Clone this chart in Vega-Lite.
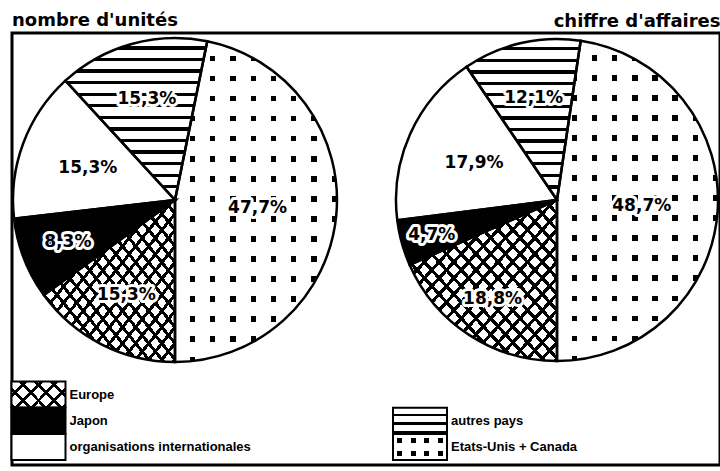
{
  "$schema": "https://vega.github.io/schema/vega-lite/v6.json",
  "width": 708,
  "height": 432,
  "autosize": {"type": "none"},
  "padding": {"left": 12, "top": 33, "right": 0, "bottom": 6},
  "background": "white",
  "title": {"text": "nombre d'unités", "anchor": "start", "frame": "group", "font": "DejaVu Sans", "fontSize": 18, "fontWeight": "bold", "color": "black", "baseline": "alphabetic", "offset": 7, "dy": 39},
  "datasets": {
    "parts": [
      {"panel": "nombre d'unités", "categorie": "Etats-Unis + Canada", "part": 47.7, "etiquette": "47,7%", "ordre": 1},
      {"panel": "nombre d'unités", "categorie": "Europe", "part": 15.3, "etiquette": "15,3%", "ordre": 2},
      {"panel": "nombre d'unités", "categorie": "Japon", "part": 8.3, "etiquette": "8,3%", "ordre": 3},
      {"panel": "nombre d'unités", "categorie": "organisations internationales", "part": 15.3, "etiquette": "15,3%", "ordre": 4},
      {"panel": "nombre d'unités", "categorie": "autres pays", "part": 15.3, "etiquette": "15,3%", "ordre": 5},
      {"panel": "chiffre d'affaires", "categorie": "Etats-Unis + Canada", "part": 48.7, "etiquette": "48,7%", "ordre": 1},
      {"panel": "chiffre d'affaires", "categorie": "Europe", "part": 18.8, "etiquette": "18,8%", "ordre": 2},
      {"panel": "chiffre d'affaires", "categorie": "Japon", "part": 4.7, "etiquette": "4,7%", "ordre": 3},
      {"panel": "chiffre d'affaires", "categorie": "organisations internationales", "part": 17.9, "etiquette": "17,9%", "ordre": 4},
      {"panel": "chiffre d'affaires", "categorie": "autres pays", "part": 12.1, "etiquette": "12,1%", "ordre": 5}
    ],
    "legende": [
      {"categorie": "Europe", "colonne": 1, "rang": 1},
      {"categorie": "Japon", "colonne": 1, "rang": 2},
      {"categorie": "organisations internationales", "colonne": 1, "rang": 3},
      {"categorie": "autres pays", "colonne": 2, "rang": 2},
      {"categorie": "Etats-Unis + Canada", "colonne": 2, "rang": 3}
    ]
  },
  "layer": [
    {
      "data": {"name": "parts"},
      "encoding": {
        "x": {"field": "panel", "type": "nominal", "scale": {"type": "point", "domain": ["nombre d'unités", "chiffre d'affaires"], "padding": 0.4267},
          "axis": {"orient": "top", "title": "chiffre d'affaires", "labels": false, "ticks": false, "domain": false, "grid": false, "titleAnchor": "end", "titleAlign": "right", "titleFont": "DejaVu Sans", "titleFontSize": 18, "titleFontWeight": "bold", "titleColor": "black", "titleBaseline": "alphabetic", "titlePadding": 7}},
        "y": {"field": "panel", "type": "nominal", "scale": {"type": "point", "domain": ["nombre d'unités", "chiffre d'affaires"], "range": [167, 167]}, "axis": null}
      },
      "layer": [
        {
          "transform": [{"filter": {"field": "panel", "equal": "nombre d'unités"}}],
          "encoding": {
            "theta": {"field": "part", "type": "quantitative", "stack": true, "scale": {"range": [0.2004, 6.4836]}},
            "order": {"field": "ordre", "type": "quantitative"}
          },
          "layer": [
            {"mark": {"type": "arc", "outerRadius": 162}, "encoding": {"fill": {"condition": {"test": "datum.categorie === 'Japon' || datum.categorie === 'Etats-Unis + Canada'", "value": "black"}, "value": "white"}}},
            {"mark": {"type": "arc", "outerRadius": 162, "fill": {"gradient": "linear", "x1": 0, "y1": 0, "x2": 0, "y2": 1, "stops": [
        {"offset": 0, "color": "white"}, {"offset": 0.0514, "color": "white"}, {"offset": 0.0514, "color": "black"}, {"offset": 0.0714, "color": "black"},
        {"offset": 0.0714, "color": "white"}, {"offset": 0.1229, "color": "white"}, {"offset": 0.1229, "color": "black"}, {"offset": 0.1429, "color": "black"},
        {"offset": 0.1429, "color": "white"}, {"offset": 0.1943, "color": "white"}, {"offset": 0.1943, "color": "black"}, {"offset": 0.2143, "color": "black"},
        {"offset": 0.2143, "color": "white"}, {"offset": 0.2657, "color": "white"}, {"offset": 0.2657, "color": "black"}, {"offset": 0.2857, "color": "black"},
        {"offset": 0.2857, "color": "white"}, {"offset": 0.3371, "color": "white"}, {"offset": 0.3371, "color": "black"}, {"offset": 0.3571, "color": "black"},
        {"offset": 0.3571, "color": "white"}, {"offset": 0.4086, "color": "white"}, {"offset": 0.4086, "color": "black"}, {"offset": 0.4286, "color": "black"},
        {"offset": 0.4286, "color": "white"}, {"offset": 0.48, "color": "white"}, {"offset": 0.48, "color": "black"}, {"offset": 0.5, "color": "black"},
        {"offset": 0.5, "color": "white"}, {"offset": 0.5514, "color": "white"}, {"offset": 0.5514, "color": "black"}, {"offset": 0.5714, "color": "black"},
        {"offset": 0.5714, "color": "white"}, {"offset": 0.6229, "color": "white"}, {"offset": 0.6229, "color": "black"}, {"offset": 0.6429, "color": "black"},
        {"offset": 0.6429, "color": "white"}, {"offset": 0.6943, "color": "white"}, {"offset": 0.6943, "color": "black"}, {"offset": 0.7143, "color": "black"},
        {"offset": 0.7143, "color": "white"}, {"offset": 0.7657, "color": "white"}, {"offset": 0.7657, "color": "black"}, {"offset": 0.7857, "color": "black"},
        {"offset": 0.7857, "color": "white"}, {"offset": 0.8371, "color": "white"}, {"offset": 0.8371, "color": "black"}, {"offset": 0.8571, "color": "black"},
        {"offset": 0.8571, "color": "white"}, {"offset": 0.9086, "color": "white"}, {"offset": 0.9086, "color": "black"}, {"offset": 0.9286, "color": "black"},
        {"offset": 0.9286, "color": "white"}, {"offset": 0.98, "color": "white"}, {"offset": 0.98, "color": "black"}, {"offset": 1, "color": "black"}]}}, "encoding": {"fillOpacity": {"condition": {"test": "datum.categorie === 'autres pays'", "value": 1}, "value": 0}}},
            {"mark": {"type": "arc", "outerRadius": 162, "fill": {"gradient": "linear", "x1": 0, "y1": 0, "x2": 1, "y2": 1, "stops": [
        {"offset": 0, "color": "rgba(0,0,0,0)"}, {"offset": 0.035, "color": "rgba(0,0,0,0)"}, {"offset": 0.035, "color": "black"}, {"offset": 0.05, "color": "black"},
        {"offset": 0.05, "color": "rgba(0,0,0,0)"}, {"offset": 0.085, "color": "rgba(0,0,0,0)"}, {"offset": 0.085, "color": "black"}, {"offset": 0.1, "color": "black"},
        {"offset": 0.1, "color": "rgba(0,0,0,0)"}, {"offset": 0.135, "color": "rgba(0,0,0,0)"}, {"offset": 0.135, "color": "black"}, {"offset": 0.15, "color": "black"},
        {"offset": 0.15, "color": "rgba(0,0,0,0)"}, {"offset": 0.185, "color": "rgba(0,0,0,0)"}, {"offset": 0.185, "color": "black"}, {"offset": 0.2, "color": "black"},
        {"offset": 0.2, "color": "rgba(0,0,0,0)"}, {"offset": 0.235, "color": "rgba(0,0,0,0)"}, {"offset": 0.235, "color": "black"}, {"offset": 0.25, "color": "black"},
        {"offset": 0.25, "color": "rgba(0,0,0,0)"}, {"offset": 0.285, "color": "rgba(0,0,0,0)"}, {"offset": 0.285, "color": "black"}, {"offset": 0.3, "color": "black"},
        {"offset": 0.3, "color": "rgba(0,0,0,0)"}, {"offset": 0.335, "color": "rgba(0,0,0,0)"}, {"offset": 0.335, "color": "black"}, {"offset": 0.35, "color": "black"},
        {"offset": 0.35, "color": "rgba(0,0,0,0)"}, {"offset": 0.385, "color": "rgba(0,0,0,0)"}, {"offset": 0.385, "color": "black"}, {"offset": 0.4, "color": "black"},
        {"offset": 0.4, "color": "rgba(0,0,0,0)"}, {"offset": 0.435, "color": "rgba(0,0,0,0)"}, {"offset": 0.435, "color": "black"}, {"offset": 0.45, "color": "black"},
        {"offset": 0.45, "color": "rgba(0,0,0,0)"}, {"offset": 0.485, "color": "rgba(0,0,0,0)"}, {"offset": 0.485, "color": "black"}, {"offset": 0.5, "color": "black"},
        {"offset": 0.5, "color": "rgba(0,0,0,0)"}, {"offset": 0.535, "color": "rgba(0,0,0,0)"}, {"offset": 0.535, "color": "black"}, {"offset": 0.55, "color": "black"},
        {"offset": 0.55, "color": "rgba(0,0,0,0)"}, {"offset": 0.585, "color": "rgba(0,0,0,0)"}, {"offset": 0.585, "color": "black"}, {"offset": 0.6, "color": "black"},
        {"offset": 0.6, "color": "rgba(0,0,0,0)"}, {"offset": 0.635, "color": "rgba(0,0,0,0)"}, {"offset": 0.635, "color": "black"}, {"offset": 0.65, "color": "black"},
        {"offset": 0.65, "color": "rgba(0,0,0,0)"}, {"offset": 0.685, "color": "rgba(0,0,0,0)"}, {"offset": 0.685, "color": "black"}, {"offset": 0.7, "color": "black"},
        {"offset": 0.7, "color": "rgba(0,0,0,0)"}, {"offset": 0.735, "color": "rgba(0,0,0,0)"}, {"offset": 0.735, "color": "black"}, {"offset": 0.75, "color": "black"},
        {"offset": 0.75, "color": "rgba(0,0,0,0)"}, {"offset": 0.785, "color": "rgba(0,0,0,0)"}, {"offset": 0.785, "color": "black"}, {"offset": 0.8, "color": "black"},
        {"offset": 0.8, "color": "rgba(0,0,0,0)"}, {"offset": 0.835, "color": "rgba(0,0,0,0)"}, {"offset": 0.835, "color": "black"}, {"offset": 0.85, "color": "black"},
        {"offset": 0.85, "color": "rgba(0,0,0,0)"}, {"offset": 0.885, "color": "rgba(0,0,0,0)"}, {"offset": 0.885, "color": "black"}, {"offset": 0.9, "color": "black"},
        {"offset": 0.9, "color": "rgba(0,0,0,0)"}, {"offset": 0.935, "color": "rgba(0,0,0,0)"}, {"offset": 0.935, "color": "black"}, {"offset": 0.95, "color": "black"},
        {"offset": 0.95, "color": "rgba(0,0,0,0)"}, {"offset": 0.985, "color": "rgba(0,0,0,0)"}, {"offset": 0.985, "color": "black"}, {"offset": 1, "color": "black"}]}}, "encoding": {"fillOpacity": {"condition": {"test": "datum.categorie === 'Europe'", "value": 1}, "value": 0}}},
            {"mark": {"type": "arc", "outerRadius": 162, "fill": {"gradient": "linear", "x1": 1, "y1": 0, "x2": 0, "y2": 1, "stops": [
        {"offset": 0, "color": "rgba(0,0,0,0)"}, {"offset": 0.035, "color": "rgba(0,0,0,0)"}, {"offset": 0.035, "color": "black"}, {"offset": 0.05, "color": "black"},
        {"offset": 0.05, "color": "rgba(0,0,0,0)"}, {"offset": 0.085, "color": "rgba(0,0,0,0)"}, {"offset": 0.085, "color": "black"}, {"offset": 0.1, "color": "black"},
        {"offset": 0.1, "color": "rgba(0,0,0,0)"}, {"offset": 0.135, "color": "rgba(0,0,0,0)"}, {"offset": 0.135, "color": "black"}, {"offset": 0.15, "color": "black"},
        {"offset": 0.15, "color": "rgba(0,0,0,0)"}, {"offset": 0.185, "color": "rgba(0,0,0,0)"}, {"offset": 0.185, "color": "black"}, {"offset": 0.2, "color": "black"},
        {"offset": 0.2, "color": "rgba(0,0,0,0)"}, {"offset": 0.235, "color": "rgba(0,0,0,0)"}, {"offset": 0.235, "color": "black"}, {"offset": 0.25, "color": "black"},
        {"offset": 0.25, "color": "rgba(0,0,0,0)"}, {"offset": 0.285, "color": "rgba(0,0,0,0)"}, {"offset": 0.285, "color": "black"}, {"offset": 0.3, "color": "black"},
        {"offset": 0.3, "color": "rgba(0,0,0,0)"}, {"offset": 0.335, "color": "rgba(0,0,0,0)"}, {"offset": 0.335, "color": "black"}, {"offset": 0.35, "color": "black"},
        {"offset": 0.35, "color": "rgba(0,0,0,0)"}, {"offset": 0.385, "color": "rgba(0,0,0,0)"}, {"offset": 0.385, "color": "black"}, {"offset": 0.4, "color": "black"},
        {"offset": 0.4, "color": "rgba(0,0,0,0)"}, {"offset": 0.435, "color": "rgba(0,0,0,0)"}, {"offset": 0.435, "color": "black"}, {"offset": 0.45, "color": "black"},
        {"offset": 0.45, "color": "rgba(0,0,0,0)"}, {"offset": 0.485, "color": "rgba(0,0,0,0)"}, {"offset": 0.485, "color": "black"}, {"offset": 0.5, "color": "black"},
        {"offset": 0.5, "color": "rgba(0,0,0,0)"}, {"offset": 0.535, "color": "rgba(0,0,0,0)"}, {"offset": 0.535, "color": "black"}, {"offset": 0.55, "color": "black"},
        {"offset": 0.55, "color": "rgba(0,0,0,0)"}, {"offset": 0.585, "color": "rgba(0,0,0,0)"}, {"offset": 0.585, "color": "black"}, {"offset": 0.6, "color": "black"},
        {"offset": 0.6, "color": "rgba(0,0,0,0)"}, {"offset": 0.635, "color": "rgba(0,0,0,0)"}, {"offset": 0.635, "color": "black"}, {"offset": 0.65, "color": "black"},
        {"offset": 0.65, "color": "rgba(0,0,0,0)"}, {"offset": 0.685, "color": "rgba(0,0,0,0)"}, {"offset": 0.685, "color": "black"}, {"offset": 0.7, "color": "black"},
        {"offset": 0.7, "color": "rgba(0,0,0,0)"}, {"offset": 0.735, "color": "rgba(0,0,0,0)"}, {"offset": 0.735, "color": "black"}, {"offset": 0.75, "color": "black"},
        {"offset": 0.75, "color": "rgba(0,0,0,0)"}, {"offset": 0.785, "color": "rgba(0,0,0,0)"}, {"offset": 0.785, "color": "black"}, {"offset": 0.8, "color": "black"},
        {"offset": 0.8, "color": "rgba(0,0,0,0)"}, {"offset": 0.835, "color": "rgba(0,0,0,0)"}, {"offset": 0.835, "color": "black"}, {"offset": 0.85, "color": "black"},
        {"offset": 0.85, "color": "rgba(0,0,0,0)"}, {"offset": 0.885, "color": "rgba(0,0,0,0)"}, {"offset": 0.885, "color": "black"}, {"offset": 0.9, "color": "black"},
        {"offset": 0.9, "color": "rgba(0,0,0,0)"}, {"offset": 0.935, "color": "rgba(0,0,0,0)"}, {"offset": 0.935, "color": "black"}, {"offset": 0.95, "color": "black"},
        {"offset": 0.95, "color": "rgba(0,0,0,0)"}, {"offset": 0.985, "color": "rgba(0,0,0,0)"}, {"offset": 0.985, "color": "black"}, {"offset": 1, "color": "black"}]}}, "encoding": {"fillOpacity": {"condition": {"test": "datum.categorie === 'Europe'", "value": 1}, "value": 0}}},
            {"mark": {"type": "arc", "outerRadius": 162, "fill": {"gradient": "linear", "x1": 0, "y1": 0, "x2": 0, "y2": 1, "stops": [
        {"offset": 0, "color": "white"}, {"offset": 0.0455, "color": "white"}, {"offset": 0.0455, "color": "rgba(0,0,0,0)"}, {"offset": 0.0625, "color": "rgba(0,0,0,0)"},
        {"offset": 0.0625, "color": "white"}, {"offset": 0.108, "color": "white"}, {"offset": 0.108, "color": "rgba(0,0,0,0)"}, {"offset": 0.125, "color": "rgba(0,0,0,0)"},
        {"offset": 0.125, "color": "white"}, {"offset": 0.1705, "color": "white"}, {"offset": 0.1705, "color": "rgba(0,0,0,0)"}, {"offset": 0.1875, "color": "rgba(0,0,0,0)"},
        {"offset": 0.1875, "color": "white"}, {"offset": 0.233, "color": "white"}, {"offset": 0.233, "color": "rgba(0,0,0,0)"}, {"offset": 0.25, "color": "rgba(0,0,0,0)"},
        {"offset": 0.25, "color": "white"}, {"offset": 0.2955, "color": "white"}, {"offset": 0.2955, "color": "rgba(0,0,0,0)"}, {"offset": 0.3125, "color": "rgba(0,0,0,0)"},
        {"offset": 0.3125, "color": "white"}, {"offset": 0.358, "color": "white"}, {"offset": 0.358, "color": "rgba(0,0,0,0)"}, {"offset": 0.375, "color": "rgba(0,0,0,0)"},
        {"offset": 0.375, "color": "white"}, {"offset": 0.4205, "color": "white"}, {"offset": 0.4205, "color": "rgba(0,0,0,0)"}, {"offset": 0.4375, "color": "rgba(0,0,0,0)"},
        {"offset": 0.4375, "color": "white"}, {"offset": 0.483, "color": "white"}, {"offset": 0.483, "color": "rgba(0,0,0,0)"}, {"offset": 0.5, "color": "rgba(0,0,0,0)"},
        {"offset": 0.5, "color": "white"}, {"offset": 0.5455, "color": "white"}, {"offset": 0.5455, "color": "rgba(0,0,0,0)"}, {"offset": 0.5625, "color": "rgba(0,0,0,0)"},
        {"offset": 0.5625, "color": "white"}, {"offset": 0.608, "color": "white"}, {"offset": 0.608, "color": "rgba(0,0,0,0)"}, {"offset": 0.625, "color": "rgba(0,0,0,0)"},
        {"offset": 0.625, "color": "white"}, {"offset": 0.6705, "color": "white"}, {"offset": 0.6705, "color": "rgba(0,0,0,0)"}, {"offset": 0.6875, "color": "rgba(0,0,0,0)"},
        {"offset": 0.6875, "color": "white"}, {"offset": 0.733, "color": "white"}, {"offset": 0.733, "color": "rgba(0,0,0,0)"}, {"offset": 0.75, "color": "rgba(0,0,0,0)"},
        {"offset": 0.75, "color": "white"}, {"offset": 0.7955, "color": "white"}, {"offset": 0.7955, "color": "rgba(0,0,0,0)"}, {"offset": 0.8125, "color": "rgba(0,0,0,0)"},
        {"offset": 0.8125, "color": "white"}, {"offset": 0.858, "color": "white"}, {"offset": 0.858, "color": "rgba(0,0,0,0)"}, {"offset": 0.875, "color": "rgba(0,0,0,0)"},
        {"offset": 0.875, "color": "white"}, {"offset": 0.9205, "color": "white"}, {"offset": 0.9205, "color": "rgba(0,0,0,0)"}, {"offset": 0.9375, "color": "rgba(0,0,0,0)"},
        {"offset": 0.9375, "color": "white"}, {"offset": 0.983, "color": "white"}, {"offset": 0.983, "color": "rgba(0,0,0,0)"}, {"offset": 1, "color": "rgba(0,0,0,0)"}]}}, "encoding": {"fillOpacity": {"condition": {"test": "datum.categorie === 'Etats-Unis + Canada'", "value": 1}, "value": 0}}},
            {"mark": {"type": "arc", "outerRadius": 162, "fill": {"gradient": "linear", "x1": 0, "y1": 0, "x2": 1, "y2": 0, "stops": [
        {"offset": 0, "color": "white"}, {"offset": 0.092, "color": "white"}, {"offset": 0.092, "color": "rgba(0,0,0,0)"}, {"offset": 0.125, "color": "rgba(0,0,0,0)"},
        {"offset": 0.125, "color": "white"}, {"offset": 0.217, "color": "white"}, {"offset": 0.217, "color": "rgba(0,0,0,0)"}, {"offset": 0.25, "color": "rgba(0,0,0,0)"},
        {"offset": 0.25, "color": "white"}, {"offset": 0.342, "color": "white"}, {"offset": 0.342, "color": "rgba(0,0,0,0)"}, {"offset": 0.375, "color": "rgba(0,0,0,0)"},
        {"offset": 0.375, "color": "white"}, {"offset": 0.467, "color": "white"}, {"offset": 0.467, "color": "rgba(0,0,0,0)"}, {"offset": 0.5, "color": "rgba(0,0,0,0)"},
        {"offset": 0.5, "color": "white"}, {"offset": 0.592, "color": "white"}, {"offset": 0.592, "color": "rgba(0,0,0,0)"}, {"offset": 0.625, "color": "rgba(0,0,0,0)"},
        {"offset": 0.625, "color": "white"}, {"offset": 0.717, "color": "white"}, {"offset": 0.717, "color": "rgba(0,0,0,0)"}, {"offset": 0.75, "color": "rgba(0,0,0,0)"},
        {"offset": 0.75, "color": "white"}, {"offset": 0.842, "color": "white"}, {"offset": 0.842, "color": "rgba(0,0,0,0)"}, {"offset": 0.875, "color": "rgba(0,0,0,0)"},
        {"offset": 0.875, "color": "white"}, {"offset": 0.967, "color": "white"}, {"offset": 0.967, "color": "rgba(0,0,0,0)"}, {"offset": 1, "color": "rgba(0,0,0,0)"}]}}, "encoding": {"fillOpacity": {"condition": {"test": "datum.categorie === 'Etats-Unis + Canada'", "value": 1}, "value": 0}}},
            {"mark": {"type": "arc", "outerRadius": 162, "fill": "transparent", "stroke": "black", "strokeWidth": 2.5}},
            {"mark": {"type": "text", "radius": 83, "font": "DejaVu Sans", "fontSize": 17, "fontWeight": "bold", "fill": "white", "stroke": "white", "strokeWidth": 6, "strokeJoin": "round"}, "encoding": {"text": {"field": "etiquette"}, "opacity": {"condition": {"test": "datum.categorie === 'Etats-Unis + Canada'", "value": 1}, "value": 0}}},
            {"mark": {"type": "text", "radius": 83, "font": "DejaVu Sans", "fontSize": 17, "fontWeight": "bold", "fill": "black"}, "encoding": {"text": {"field": "etiquette"}, "opacity": {"condition": {"test": "datum.categorie === 'Etats-Unis + Canada'", "value": 1}, "value": 0}}},
            {"mark": {"type": "text", "radius": 107, "font": "DejaVu Sans", "fontSize": 17, "fontWeight": "bold", "fill": "white", "stroke": "white", "strokeWidth": 6, "strokeJoin": "round"}, "encoding": {"text": {"field": "etiquette"}, "opacity": {"condition": {"test": "datum.categorie === 'Europe'", "value": 1}, "value": 0}}},
            {"mark": {"type": "text", "radius": 107, "font": "DejaVu Sans", "fontSize": 17, "fontWeight": "bold", "fill": "black"}, "encoding": {"text": {"field": "etiquette"}, "opacity": {"condition": {"test": "datum.categorie === 'Europe'", "value": 1}, "value": 0}}},
            {"mark": {"type": "text", "radius": 115, "font": "DejaVu Sans", "fontSize": 17, "fontWeight": "bold", "fill": "white", "stroke": "white", "strokeWidth": 6, "strokeJoin": "round"}, "encoding": {"text": {"field": "etiquette"}, "opacity": {"condition": {"test": "datum.categorie === 'Japon'", "value": 1}, "value": 0}}},
            {"mark": {"type": "text", "radius": 115, "font": "DejaVu Sans", "fontSize": 17, "fontWeight": "bold", "fill": "black"}, "encoding": {"text": {"field": "etiquette"}, "opacity": {"condition": {"test": "datum.categorie === 'Japon'", "value": 1}, "value": 0}}},
            {"mark": {"type": "text", "radius": 93, "font": "DejaVu Sans", "fontSize": 17, "fontWeight": "bold", "fill": "black"}, "encoding": {"text": {"field": "etiquette"}, "opacity": {"condition": {"test": "datum.categorie === 'organisations internationales'", "value": 1}, "value": 0}}},
            {"mark": {"type": "text", "radius": 105, "font": "DejaVu Sans", "fontSize": 17, "fontWeight": "bold", "fill": "white", "stroke": "white", "strokeWidth": 6, "strokeJoin": "round"}, "encoding": {"text": {"field": "etiquette"}, "opacity": {"condition": {"test": "datum.categorie === 'autres pays'", "value": 1}, "value": 0}}},
            {"mark": {"type": "text", "radius": 105, "font": "DejaVu Sans", "fontSize": 17, "fontWeight": "bold", "fill": "black"}, "encoding": {"text": {"field": "etiquette"}, "opacity": {"condition": {"test": "datum.categorie === 'autres pays'", "value": 1}, "value": 0}}}
          ]
        },
        {
          "transform": [{"filter": {"field": "panel", "equal": "chiffre d'affaires"}}],
          "encoding": {
            "theta": {"field": "part", "type": "quantitative", "stack": true, "scale": {"range": [0.1475, 6.4307]}},
            "order": {"field": "ordre", "type": "quantitative"}
          },
          "layer": [
            {"mark": {"type": "arc", "outerRadius": 161}, "encoding": {"fill": {"condition": {"test": "datum.categorie === 'Japon' || datum.categorie === 'Etats-Unis + Canada'", "value": "black"}, "value": "white"}}},
            {"mark": {"type": "arc", "outerRadius": 161, "fill": {"gradient": "linear", "x1": 0, "y1": 0, "x2": 0, "y2": 1, "stops": [
        {"offset": 0, "color": "white"}, {"offset": 0.0514, "color": "white"}, {"offset": 0.0514, "color": "black"}, {"offset": 0.0714, "color": "black"},
        {"offset": 0.0714, "color": "white"}, {"offset": 0.1229, "color": "white"}, {"offset": 0.1229, "color": "black"}, {"offset": 0.1429, "color": "black"},
        {"offset": 0.1429, "color": "white"}, {"offset": 0.1943, "color": "white"}, {"offset": 0.1943, "color": "black"}, {"offset": 0.2143, "color": "black"},
        {"offset": 0.2143, "color": "white"}, {"offset": 0.2657, "color": "white"}, {"offset": 0.2657, "color": "black"}, {"offset": 0.2857, "color": "black"},
        {"offset": 0.2857, "color": "white"}, {"offset": 0.3371, "color": "white"}, {"offset": 0.3371, "color": "black"}, {"offset": 0.3571, "color": "black"},
        {"offset": 0.3571, "color": "white"}, {"offset": 0.4086, "color": "white"}, {"offset": 0.4086, "color": "black"}, {"offset": 0.4286, "color": "black"},
        {"offset": 0.4286, "color": "white"}, {"offset": 0.48, "color": "white"}, {"offset": 0.48, "color": "black"}, {"offset": 0.5, "color": "black"},
        {"offset": 0.5, "color": "white"}, {"offset": 0.5514, "color": "white"}, {"offset": 0.5514, "color": "black"}, {"offset": 0.5714, "color": "black"},
        {"offset": 0.5714, "color": "white"}, {"offset": 0.6229, "color": "white"}, {"offset": 0.6229, "color": "black"}, {"offset": 0.6429, "color": "black"},
        {"offset": 0.6429, "color": "white"}, {"offset": 0.6943, "color": "white"}, {"offset": 0.6943, "color": "black"}, {"offset": 0.7143, "color": "black"},
        {"offset": 0.7143, "color": "white"}, {"offset": 0.7657, "color": "white"}, {"offset": 0.7657, "color": "black"}, {"offset": 0.7857, "color": "black"},
        {"offset": 0.7857, "color": "white"}, {"offset": 0.8371, "color": "white"}, {"offset": 0.8371, "color": "black"}, {"offset": 0.8571, "color": "black"},
        {"offset": 0.8571, "color": "white"}, {"offset": 0.9086, "color": "white"}, {"offset": 0.9086, "color": "black"}, {"offset": 0.9286, "color": "black"},
        {"offset": 0.9286, "color": "white"}, {"offset": 0.98, "color": "white"}, {"offset": 0.98, "color": "black"}, {"offset": 1, "color": "black"}]}}, "encoding": {"fillOpacity": {"condition": {"test": "datum.categorie === 'autres pays'", "value": 1}, "value": 0}}},
            {"mark": {"type": "arc", "outerRadius": 161, "fill": {"gradient": "linear", "x1": 0, "y1": 0, "x2": 1, "y2": 1, "stops": [
        {"offset": 0, "color": "rgba(0,0,0,0)"}, {"offset": 0.035, "color": "rgba(0,0,0,0)"}, {"offset": 0.035, "color": "black"}, {"offset": 0.05, "color": "black"},
        {"offset": 0.05, "color": "rgba(0,0,0,0)"}, {"offset": 0.085, "color": "rgba(0,0,0,0)"}, {"offset": 0.085, "color": "black"}, {"offset": 0.1, "color": "black"},
        {"offset": 0.1, "color": "rgba(0,0,0,0)"}, {"offset": 0.135, "color": "rgba(0,0,0,0)"}, {"offset": 0.135, "color": "black"}, {"offset": 0.15, "color": "black"},
        {"offset": 0.15, "color": "rgba(0,0,0,0)"}, {"offset": 0.185, "color": "rgba(0,0,0,0)"}, {"offset": 0.185, "color": "black"}, {"offset": 0.2, "color": "black"},
        {"offset": 0.2, "color": "rgba(0,0,0,0)"}, {"offset": 0.235, "color": "rgba(0,0,0,0)"}, {"offset": 0.235, "color": "black"}, {"offset": 0.25, "color": "black"},
        {"offset": 0.25, "color": "rgba(0,0,0,0)"}, {"offset": 0.285, "color": "rgba(0,0,0,0)"}, {"offset": 0.285, "color": "black"}, {"offset": 0.3, "color": "black"},
        {"offset": 0.3, "color": "rgba(0,0,0,0)"}, {"offset": 0.335, "color": "rgba(0,0,0,0)"}, {"offset": 0.335, "color": "black"}, {"offset": 0.35, "color": "black"},
        {"offset": 0.35, "color": "rgba(0,0,0,0)"}, {"offset": 0.385, "color": "rgba(0,0,0,0)"}, {"offset": 0.385, "color": "black"}, {"offset": 0.4, "color": "black"},
        {"offset": 0.4, "color": "rgba(0,0,0,0)"}, {"offset": 0.435, "color": "rgba(0,0,0,0)"}, {"offset": 0.435, "color": "black"}, {"offset": 0.45, "color": "black"},
        {"offset": 0.45, "color": "rgba(0,0,0,0)"}, {"offset": 0.485, "color": "rgba(0,0,0,0)"}, {"offset": 0.485, "color": "black"}, {"offset": 0.5, "color": "black"},
        {"offset": 0.5, "color": "rgba(0,0,0,0)"}, {"offset": 0.535, "color": "rgba(0,0,0,0)"}, {"offset": 0.535, "color": "black"}, {"offset": 0.55, "color": "black"},
        {"offset": 0.55, "color": "rgba(0,0,0,0)"}, {"offset": 0.585, "color": "rgba(0,0,0,0)"}, {"offset": 0.585, "color": "black"}, {"offset": 0.6, "color": "black"},
        {"offset": 0.6, "color": "rgba(0,0,0,0)"}, {"offset": 0.635, "color": "rgba(0,0,0,0)"}, {"offset": 0.635, "color": "black"}, {"offset": 0.65, "color": "black"},
        {"offset": 0.65, "color": "rgba(0,0,0,0)"}, {"offset": 0.685, "color": "rgba(0,0,0,0)"}, {"offset": 0.685, "color": "black"}, {"offset": 0.7, "color": "black"},
        {"offset": 0.7, "color": "rgba(0,0,0,0)"}, {"offset": 0.735, "color": "rgba(0,0,0,0)"}, {"offset": 0.735, "color": "black"}, {"offset": 0.75, "color": "black"},
        {"offset": 0.75, "color": "rgba(0,0,0,0)"}, {"offset": 0.785, "color": "rgba(0,0,0,0)"}, {"offset": 0.785, "color": "black"}, {"offset": 0.8, "color": "black"},
        {"offset": 0.8, "color": "rgba(0,0,0,0)"}, {"offset": 0.835, "color": "rgba(0,0,0,0)"}, {"offset": 0.835, "color": "black"}, {"offset": 0.85, "color": "black"},
        {"offset": 0.85, "color": "rgba(0,0,0,0)"}, {"offset": 0.885, "color": "rgba(0,0,0,0)"}, {"offset": 0.885, "color": "black"}, {"offset": 0.9, "color": "black"},
        {"offset": 0.9, "color": "rgba(0,0,0,0)"}, {"offset": 0.935, "color": "rgba(0,0,0,0)"}, {"offset": 0.935, "color": "black"}, {"offset": 0.95, "color": "black"},
        {"offset": 0.95, "color": "rgba(0,0,0,0)"}, {"offset": 0.985, "color": "rgba(0,0,0,0)"}, {"offset": 0.985, "color": "black"}, {"offset": 1, "color": "black"}]}}, "encoding": {"fillOpacity": {"condition": {"test": "datum.categorie === 'Europe'", "value": 1}, "value": 0}}},
            {"mark": {"type": "arc", "outerRadius": 161, "fill": {"gradient": "linear", "x1": 1, "y1": 0, "x2": 0, "y2": 1, "stops": [
        {"offset": 0, "color": "rgba(0,0,0,0)"}, {"offset": 0.035, "color": "rgba(0,0,0,0)"}, {"offset": 0.035, "color": "black"}, {"offset": 0.05, "color": "black"},
        {"offset": 0.05, "color": "rgba(0,0,0,0)"}, {"offset": 0.085, "color": "rgba(0,0,0,0)"}, {"offset": 0.085, "color": "black"}, {"offset": 0.1, "color": "black"},
        {"offset": 0.1, "color": "rgba(0,0,0,0)"}, {"offset": 0.135, "color": "rgba(0,0,0,0)"}, {"offset": 0.135, "color": "black"}, {"offset": 0.15, "color": "black"},
        {"offset": 0.15, "color": "rgba(0,0,0,0)"}, {"offset": 0.185, "color": "rgba(0,0,0,0)"}, {"offset": 0.185, "color": "black"}, {"offset": 0.2, "color": "black"},
        {"offset": 0.2, "color": "rgba(0,0,0,0)"}, {"offset": 0.235, "color": "rgba(0,0,0,0)"}, {"offset": 0.235, "color": "black"}, {"offset": 0.25, "color": "black"},
        {"offset": 0.25, "color": "rgba(0,0,0,0)"}, {"offset": 0.285, "color": "rgba(0,0,0,0)"}, {"offset": 0.285, "color": "black"}, {"offset": 0.3, "color": "black"},
        {"offset": 0.3, "color": "rgba(0,0,0,0)"}, {"offset": 0.335, "color": "rgba(0,0,0,0)"}, {"offset": 0.335, "color": "black"}, {"offset": 0.35, "color": "black"},
        {"offset": 0.35, "color": "rgba(0,0,0,0)"}, {"offset": 0.385, "color": "rgba(0,0,0,0)"}, {"offset": 0.385, "color": "black"}, {"offset": 0.4, "color": "black"},
        {"offset": 0.4, "color": "rgba(0,0,0,0)"}, {"offset": 0.435, "color": "rgba(0,0,0,0)"}, {"offset": 0.435, "color": "black"}, {"offset": 0.45, "color": "black"},
        {"offset": 0.45, "color": "rgba(0,0,0,0)"}, {"offset": 0.485, "color": "rgba(0,0,0,0)"}, {"offset": 0.485, "color": "black"}, {"offset": 0.5, "color": "black"},
        {"offset": 0.5, "color": "rgba(0,0,0,0)"}, {"offset": 0.535, "color": "rgba(0,0,0,0)"}, {"offset": 0.535, "color": "black"}, {"offset": 0.55, "color": "black"},
        {"offset": 0.55, "color": "rgba(0,0,0,0)"}, {"offset": 0.585, "color": "rgba(0,0,0,0)"}, {"offset": 0.585, "color": "black"}, {"offset": 0.6, "color": "black"},
        {"offset": 0.6, "color": "rgba(0,0,0,0)"}, {"offset": 0.635, "color": "rgba(0,0,0,0)"}, {"offset": 0.635, "color": "black"}, {"offset": 0.65, "color": "black"},
        {"offset": 0.65, "color": "rgba(0,0,0,0)"}, {"offset": 0.685, "color": "rgba(0,0,0,0)"}, {"offset": 0.685, "color": "black"}, {"offset": 0.7, "color": "black"},
        {"offset": 0.7, "color": "rgba(0,0,0,0)"}, {"offset": 0.735, "color": "rgba(0,0,0,0)"}, {"offset": 0.735, "color": "black"}, {"offset": 0.75, "color": "black"},
        {"offset": 0.75, "color": "rgba(0,0,0,0)"}, {"offset": 0.785, "color": "rgba(0,0,0,0)"}, {"offset": 0.785, "color": "black"}, {"offset": 0.8, "color": "black"},
        {"offset": 0.8, "color": "rgba(0,0,0,0)"}, {"offset": 0.835, "color": "rgba(0,0,0,0)"}, {"offset": 0.835, "color": "black"}, {"offset": 0.85, "color": "black"},
        {"offset": 0.85, "color": "rgba(0,0,0,0)"}, {"offset": 0.885, "color": "rgba(0,0,0,0)"}, {"offset": 0.885, "color": "black"}, {"offset": 0.9, "color": "black"},
        {"offset": 0.9, "color": "rgba(0,0,0,0)"}, {"offset": 0.935, "color": "rgba(0,0,0,0)"}, {"offset": 0.935, "color": "black"}, {"offset": 0.95, "color": "black"},
        {"offset": 0.95, "color": "rgba(0,0,0,0)"}, {"offset": 0.985, "color": "rgba(0,0,0,0)"}, {"offset": 0.985, "color": "black"}, {"offset": 1, "color": "black"}]}}, "encoding": {"fillOpacity": {"condition": {"test": "datum.categorie === 'Europe'", "value": 1}, "value": 0}}},
            {"mark": {"type": "arc", "outerRadius": 161, "fill": {"gradient": "linear", "x1": 0, "y1": 0, "x2": 0, "y2": 1, "stops": [
        {"offset": 0, "color": "white"}, {"offset": 0.0455, "color": "white"}, {"offset": 0.0455, "color": "rgba(0,0,0,0)"}, {"offset": 0.0625, "color": "rgba(0,0,0,0)"},
        {"offset": 0.0625, "color": "white"}, {"offset": 0.108, "color": "white"}, {"offset": 0.108, "color": "rgba(0,0,0,0)"}, {"offset": 0.125, "color": "rgba(0,0,0,0)"},
        {"offset": 0.125, "color": "white"}, {"offset": 0.1705, "color": "white"}, {"offset": 0.1705, "color": "rgba(0,0,0,0)"}, {"offset": 0.1875, "color": "rgba(0,0,0,0)"},
        {"offset": 0.1875, "color": "white"}, {"offset": 0.233, "color": "white"}, {"offset": 0.233, "color": "rgba(0,0,0,0)"}, {"offset": 0.25, "color": "rgba(0,0,0,0)"},
        {"offset": 0.25, "color": "white"}, {"offset": 0.2955, "color": "white"}, {"offset": 0.2955, "color": "rgba(0,0,0,0)"}, {"offset": 0.3125, "color": "rgba(0,0,0,0)"},
        {"offset": 0.3125, "color": "white"}, {"offset": 0.358, "color": "white"}, {"offset": 0.358, "color": "rgba(0,0,0,0)"}, {"offset": 0.375, "color": "rgba(0,0,0,0)"},
        {"offset": 0.375, "color": "white"}, {"offset": 0.4205, "color": "white"}, {"offset": 0.4205, "color": "rgba(0,0,0,0)"}, {"offset": 0.4375, "color": "rgba(0,0,0,0)"},
        {"offset": 0.4375, "color": "white"}, {"offset": 0.483, "color": "white"}, {"offset": 0.483, "color": "rgba(0,0,0,0)"}, {"offset": 0.5, "color": "rgba(0,0,0,0)"},
        {"offset": 0.5, "color": "white"}, {"offset": 0.5455, "color": "white"}, {"offset": 0.5455, "color": "rgba(0,0,0,0)"}, {"offset": 0.5625, "color": "rgba(0,0,0,0)"},
        {"offset": 0.5625, "color": "white"}, {"offset": 0.608, "color": "white"}, {"offset": 0.608, "color": "rgba(0,0,0,0)"}, {"offset": 0.625, "color": "rgba(0,0,0,0)"},
        {"offset": 0.625, "color": "white"}, {"offset": 0.6705, "color": "white"}, {"offset": 0.6705, "color": "rgba(0,0,0,0)"}, {"offset": 0.6875, "color": "rgba(0,0,0,0)"},
        {"offset": 0.6875, "color": "white"}, {"offset": 0.733, "color": "white"}, {"offset": 0.733, "color": "rgba(0,0,0,0)"}, {"offset": 0.75, "color": "rgba(0,0,0,0)"},
        {"offset": 0.75, "color": "white"}, {"offset": 0.7955, "color": "white"}, {"offset": 0.7955, "color": "rgba(0,0,0,0)"}, {"offset": 0.8125, "color": "rgba(0,0,0,0)"},
        {"offset": 0.8125, "color": "white"}, {"offset": 0.858, "color": "white"}, {"offset": 0.858, "color": "rgba(0,0,0,0)"}, {"offset": 0.875, "color": "rgba(0,0,0,0)"},
        {"offset": 0.875, "color": "white"}, {"offset": 0.9205, "color": "white"}, {"offset": 0.9205, "color": "rgba(0,0,0,0)"}, {"offset": 0.9375, "color": "rgba(0,0,0,0)"},
        {"offset": 0.9375, "color": "white"}, {"offset": 0.983, "color": "white"}, {"offset": 0.983, "color": "rgba(0,0,0,0)"}, {"offset": 1, "color": "rgba(0,0,0,0)"}]}}, "encoding": {"fillOpacity": {"condition": {"test": "datum.categorie === 'Etats-Unis + Canada'", "value": 1}, "value": 0}}},
            {"mark": {"type": "arc", "outerRadius": 161, "fill": {"gradient": "linear", "x1": 0, "y1": 0, "x2": 1, "y2": 0, "stops": [
        {"offset": 0, "color": "white"}, {"offset": 0.092, "color": "white"}, {"offset": 0.092, "color": "rgba(0,0,0,0)"}, {"offset": 0.125, "color": "rgba(0,0,0,0)"},
        {"offset": 0.125, "color": "white"}, {"offset": 0.217, "color": "white"}, {"offset": 0.217, "color": "rgba(0,0,0,0)"}, {"offset": 0.25, "color": "rgba(0,0,0,0)"},
        {"offset": 0.25, "color": "white"}, {"offset": 0.342, "color": "white"}, {"offset": 0.342, "color": "rgba(0,0,0,0)"}, {"offset": 0.375, "color": "rgba(0,0,0,0)"},
        {"offset": 0.375, "color": "white"}, {"offset": 0.467, "color": "white"}, {"offset": 0.467, "color": "rgba(0,0,0,0)"}, {"offset": 0.5, "color": "rgba(0,0,0,0)"},
        {"offset": 0.5, "color": "white"}, {"offset": 0.592, "color": "white"}, {"offset": 0.592, "color": "rgba(0,0,0,0)"}, {"offset": 0.625, "color": "rgba(0,0,0,0)"},
        {"offset": 0.625, "color": "white"}, {"offset": 0.717, "color": "white"}, {"offset": 0.717, "color": "rgba(0,0,0,0)"}, {"offset": 0.75, "color": "rgba(0,0,0,0)"},
        {"offset": 0.75, "color": "white"}, {"offset": 0.842, "color": "white"}, {"offset": 0.842, "color": "rgba(0,0,0,0)"}, {"offset": 0.875, "color": "rgba(0,0,0,0)"},
        {"offset": 0.875, "color": "white"}, {"offset": 0.967, "color": "white"}, {"offset": 0.967, "color": "rgba(0,0,0,0)"}, {"offset": 1, "color": "rgba(0,0,0,0)"}]}}, "encoding": {"fillOpacity": {"condition": {"test": "datum.categorie === 'Etats-Unis + Canada'", "value": 1}, "value": 0}}},
            {"mark": {"type": "arc", "outerRadius": 161, "fill": "transparent", "stroke": "black", "strokeWidth": 2.5}},
            {"mark": {"type": "text", "radius": 85, "font": "DejaVu Sans", "fontSize": 17, "fontWeight": "bold", "fill": "white", "stroke": "white", "strokeWidth": 6, "strokeJoin": "round"}, "encoding": {"text": {"field": "etiquette"}, "opacity": {"condition": {"test": "datum.categorie === 'Etats-Unis + Canada'", "value": 1}, "value": 0}}},
            {"mark": {"type": "text", "radius": 85, "font": "DejaVu Sans", "fontSize": 17, "fontWeight": "bold", "fill": "black"}, "encoding": {"text": {"field": "etiquette"}, "opacity": {"condition": {"test": "datum.categorie === 'Etats-Unis + Canada'", "value": 1}, "value": 0}}},
            {"mark": {"type": "text", "radius": 118, "font": "DejaVu Sans", "fontSize": 17, "fontWeight": "bold", "fill": "white", "stroke": "white", "strokeWidth": 6, "strokeJoin": "round"}, "encoding": {"text": {"field": "etiquette"}, "opacity": {"condition": {"test": "datum.categorie === 'Europe'", "value": 1}, "value": 0}}},
            {"mark": {"type": "text", "radius": 118, "font": "DejaVu Sans", "fontSize": 17, "fontWeight": "bold", "fill": "black"}, "encoding": {"text": {"field": "etiquette"}, "opacity": {"condition": {"test": "datum.categorie === 'Europe'", "value": 1}, "value": 0}}},
            {"mark": {"type": "text", "radius": 130, "font": "DejaVu Sans", "fontSize": 17, "fontWeight": "bold", "fill": "white", "stroke": "white", "strokeWidth": 6, "strokeJoin": "round"}, "encoding": {"text": {"field": "etiquette"}, "opacity": {"condition": {"test": "datum.categorie === 'Japon'", "value": 1}, "value": 0}}},
            {"mark": {"type": "text", "radius": 130, "font": "DejaVu Sans", "fontSize": 17, "fontWeight": "bold", "fill": "black"}, "encoding": {"text": {"field": "etiquette"}, "opacity": {"condition": {"test": "datum.categorie === 'Japon'", "value": 1}, "value": 0}}},
            {"mark": {"type": "text", "radius": 91, "font": "DejaVu Sans", "fontSize": 17, "fontWeight": "bold", "fill": "black"}, "encoding": {"text": {"field": "etiquette"}, "opacity": {"condition": {"test": "datum.categorie === 'organisations internationales'", "value": 1}, "value": 0}}},
            {"mark": {"type": "text", "radius": 105, "font": "DejaVu Sans", "fontSize": 17, "fontWeight": "bold", "fill": "white", "stroke": "white", "strokeWidth": 6, "strokeJoin": "round"}, "encoding": {"text": {"field": "etiquette"}, "opacity": {"condition": {"test": "datum.categorie === 'autres pays'", "value": 1}, "value": 0}}},
            {"mark": {"type": "text", "radius": 105, "font": "DejaVu Sans", "fontSize": 17, "fontWeight": "bold", "fill": "black"}, "encoding": {"text": {"field": "etiquette"}, "opacity": {"condition": {"test": "datum.categorie === 'autres pays'", "value": 1}, "value": 0}}}
          ]
        }
      ],
      "resolve": {"scale": {"theta": "independent"}}
    },
    {
      "data": {"name": "legende"},
      "encoding": {
        "x": {"field": "colonne", "type": "ordinal", "scale": {"type": "point", "domain": [1, 2], "range": [26.5, 408], "padding": 0}, "axis": null},
        "y": {"field": "rang", "type": "ordinal", "scale": {"type": "point", "domain": [1, 2, 3], "range": [361.5, 414], "padding": 0}, "axis": null}
      },
      "layer": [
        {"mark": {"type": "point", "shape": "M-1,-0.48H1V0.48H-1Z", "size": 2916, "filled": true, "opacity": 1, "strokeWidth": 0}, "encoding": {"fill": {"condition": {"test": "datum.categorie === 'Japon' || datum.categorie === 'Etats-Unis + Canada'", "value": "black"}, "value": "white"}}},
        {"mark": {"type": "point", "shape": "M-1,-0.48H1V0.48H-1Z", "size": 2916, "filled": true, "opacity": 1, "strokeWidth": 0,
          "fill": {"gradient": "linear", "x1": 0, "y1": 0, "x2": 0, "y2": 1, "stops": [
            {"offset": 0, "color": "white"}, {"offset": 0.23, "color": "white"}, {"offset": 0.23, "color": "black"}, {"offset": 0.333, "color": "black"},
            {"offset": 0.333, "color": "white"}, {"offset": 0.563, "color": "white"}, {"offset": 0.563, "color": "black"}, {"offset": 0.667, "color": "black"},
            {"offset": 0.667, "color": "white"}, {"offset": 0.9, "color": "white"}, {"offset": 0.9, "color": "black"}, {"offset": 1, "color": "black"}]}},
          "encoding": {"fillOpacity": {"condition": {"test": "datum.categorie === 'autres pays'", "value": 1}, "value": 0}}},
        {"mark": {"type": "point", "shape": "M-1,-0.48H1V0.48H-1Z", "size": 2916, "filled": true, "opacity": 1, "strokeWidth": 0,
          "fill": {"gradient": "linear", "x1": 0, "y1": 0, "x2": 1.203, "y2": 0.577, "stops": [
            {"offset": 0, "color": "rgba(0,0,0,0)"}, {"offset": 0.15, "color": "rgba(0,0,0,0)"}, {"offset": 0.15, "color": "black"}, {"offset": 0.2, "color": "black"},
            {"offset": 0.2, "color": "rgba(0,0,0,0)"}, {"offset": 0.35, "color": "rgba(0,0,0,0)"}, {"offset": 0.35, "color": "black"}, {"offset": 0.4, "color": "black"},
            {"offset": 0.4, "color": "rgba(0,0,0,0)"}, {"offset": 0.55, "color": "rgba(0,0,0,0)"}, {"offset": 0.55, "color": "black"}, {"offset": 0.6, "color": "black"},
            {"offset": 0.6, "color": "rgba(0,0,0,0)"}, {"offset": 0.75, "color": "rgba(0,0,0,0)"}, {"offset": 0.75, "color": "black"}, {"offset": 0.8, "color": "black"},
            {"offset": 0.8, "color": "rgba(0,0,0,0)"}, {"offset": 0.95, "color": "rgba(0,0,0,0)"}, {"offset": 0.95, "color": "black"}, {"offset": 1, "color": "black"}]}},
          "encoding": {"fillOpacity": {"condition": {"test": "datum.categorie === 'Europe'", "value": 1}, "value": 0}}},
        {"mark": {"type": "point", "shape": "M-1,-0.48H1V0.48H-1Z", "size": 2916, "filled": true, "opacity": 1, "strokeWidth": 0,
          "fill": {"gradient": "linear", "x1": 1, "y1": 0, "x2": -0.203, "y2": 0.577, "stops": [
            {"offset": 0, "color": "rgba(0,0,0,0)"}, {"offset": 0.15, "color": "rgba(0,0,0,0)"}, {"offset": 0.15, "color": "black"}, {"offset": 0.2, "color": "black"},
            {"offset": 0.2, "color": "rgba(0,0,0,0)"}, {"offset": 0.35, "color": "rgba(0,0,0,0)"}, {"offset": 0.35, "color": "black"}, {"offset": 0.4, "color": "black"},
            {"offset": 0.4, "color": "rgba(0,0,0,0)"}, {"offset": 0.55, "color": "rgba(0,0,0,0)"}, {"offset": 0.55, "color": "black"}, {"offset": 0.6, "color": "black"},
            {"offset": 0.6, "color": "rgba(0,0,0,0)"}, {"offset": 0.75, "color": "rgba(0,0,0,0)"}, {"offset": 0.75, "color": "black"}, {"offset": 0.8, "color": "black"},
            {"offset": 0.8, "color": "rgba(0,0,0,0)"}, {"offset": 0.95, "color": "rgba(0,0,0,0)"}, {"offset": 0.95, "color": "black"}, {"offset": 1, "color": "black"}]}},
          "encoding": {"fillOpacity": {"condition": {"test": "datum.categorie === 'Europe'", "value": 1}, "value": 0}}},
        {"mark": {"type": "point", "shape": "M-1,-0.48H1V0.48H-1Z", "size": 2916, "filled": true, "opacity": 1, "strokeWidth": 0,
          "fill": {"gradient": "linear", "x1": 0, "y1": 0, "x2": 0, "y2": 1, "stops": [
            {"offset": 0, "color": "white"}, {"offset": 0.15, "color": "white"}, {"offset": 0.15, "color": "rgba(0,0,0,0)"}, {"offset": 0.35, "color": "rgba(0,0,0,0)"},
            {"offset": 0.35, "color": "white"}, {"offset": 0.65, "color": "white"}, {"offset": 0.65, "color": "rgba(0,0,0,0)"}, {"offset": 0.85, "color": "rgba(0,0,0,0)"},
            {"offset": 0.85, "color": "white"}, {"offset": 1, "color": "white"}]}},
          "encoding": {"fillOpacity": {"condition": {"test": "datum.categorie === 'Etats-Unis + Canada'", "value": 1}, "value": 0}}},
        {"mark": {"type": "point", "shape": "M-1,-0.48H1V0.48H-1Z", "size": 2916, "filled": true, "opacity": 1, "strokeWidth": 0,
          "fill": {"gradient": "linear", "x1": 0, "y1": 0, "x2": 1, "y2": 0, "stops": [
            {"offset": 0, "color": "white"}, {"offset": 0.08, "color": "white"}, {"offset": 0.08, "color": "rgba(0,0,0,0)"}, {"offset": 0.17, "color": "rgba(0,0,0,0)"},
            {"offset": 0.17, "color": "white"}, {"offset": 0.33, "color": "white"}, {"offset": 0.33, "color": "rgba(0,0,0,0)"}, {"offset": 0.42, "color": "rgba(0,0,0,0)"},
            {"offset": 0.42, "color": "white"}, {"offset": 0.58, "color": "white"}, {"offset": 0.58, "color": "rgba(0,0,0,0)"}, {"offset": 0.67, "color": "rgba(0,0,0,0)"},
            {"offset": 0.67, "color": "white"}, {"offset": 0.83, "color": "white"}, {"offset": 0.83, "color": "rgba(0,0,0,0)"}, {"offset": 0.92, "color": "rgba(0,0,0,0)"},
            {"offset": 0.92, "color": "white"}, {"offset": 1, "color": "white"}]}},
          "encoding": {"fillOpacity": {"condition": {"test": "datum.categorie === 'Etats-Unis + Canada'", "value": 1}, "value": 0}}},
        {"mark": {"type": "point", "shape": "M-1,-0.48H1V0.48H-1Z", "size": 2916, "filled": false, "opacity": 1, "stroke": "black", "strokeWidth": 2}},
        {"mark": {"type": "text", "align": "left", "baseline": "middle", "dx": 31, "font": "Liberation Sans", "fontSize": 13, "fontWeight": "bold", "color": "black"}, "encoding": {"text": {"field": "categorie"}}}
      ]
    }
  ],
  "resolve": {"scale": {"x": "independent", "y": "independent"}, "axis": {"x": "independent", "y": "independent"}},
  "config": {
    "view": {"stroke": "black", "strokeWidth": 3}
  }
}
